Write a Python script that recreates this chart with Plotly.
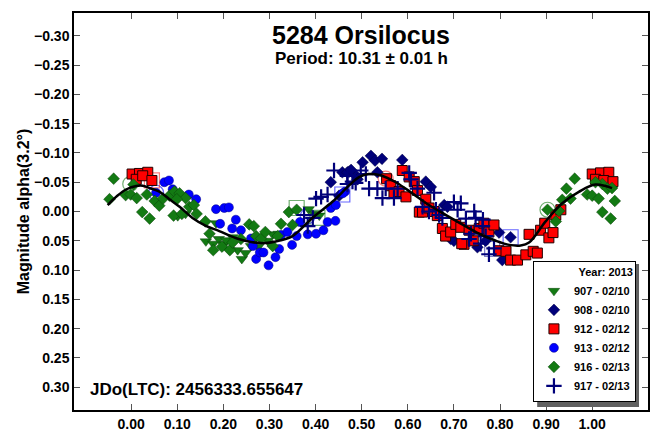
import plotly.graph_objects as go

# ---------------- data ----------------
fit_phase = [-0.051, -0.03, -0.01, 0.011, 0.025, 0.04, 0.061, 0.083, 0.105, 0.133, 0.161, 0.191,
             0.235, 0.26, 0.29, 0.32, 0.35, 0.393, 0.437, 0.473, 0.495, 0.515, 0.54, 0.574,
             0.61, 0.646, 0.682, 0.718, 0.755, 0.791, 0.82, 0.845, 0.863, 0.899, 0.935, 0.971,
             1.007, 1.043]
fit_mag = [-0.011, -0.027, -0.038, -0.0435, -0.044, -0.040, -0.034, -0.021, -0.008, 0.011, 0.024, 0.0335,
           0.0475, 0.052, 0.054, 0.050, 0.042, 0.011, -0.017, -0.0446, -0.059, -0.064, -0.062, -0.050,
           -0.031, -0.011, 0.0057, 0.022, 0.038, 0.050, 0.057, 0.058, 0.053, 0.0168, -0.014, -0.0335,
           -0.046, -0.040]

s907_phase = [0.162, 0.178, 0.190, 0.202, 0.206, 0.213, 0.231, 0.240, 0.248, 0.260, 0.276, 0.296,
              0.307, 0.320, 0.385, 0.397, 0.408, 0.101, 0.118, 0.184, 0.220]
s907_mag = [0.051, 0.055, 0.047, 0.056, 0.049, 0.066, 0.066, 0.081, 0.071, 0.059, 0.060, 0.050,
            0.039, 0.038, -0.004, 0.004, 0.007, 0.008, 0.004, 0.020, 0.044]

s908_phase = [0.433, 0.458, 0.473, 0.484, 0.491, 0.451, 0.469, 0.477, 0.502, 0.520, 0.529, 0.544,
              0.588, 0.534, 0.639, 0.650, 0.679, 0.686, 0.798, 0.823, 0.805, 0.751, 0.700, 0.693, 0.769]
s908_mag = [-0.050, -0.067, -0.068, -0.064, -0.055, -0.027, -0.067, -0.071, -0.084, -0.095, -0.087, -0.090,
            -0.088, -0.067, -0.051, -0.042, -0.011, -0.008, 0.036, 0.044, 0.083, 0.061, 0.050, 0.047, 0.050]

s912_phase = [0.002, 0.018, 0.036, 0.011, 0.025, 0.045, 0.554, 0.563, 0.570, 0.581, 0.588, 0.603,
              0.614, 0.596, 0.621, 0.639, 0.625, 0.632, 0.646, 0.657, 0.664, 0.675, 0.682, 0.693,
              0.704, 0.715, 0.722, 0.717, 0.733, 0.742, 0.755, 0.765, 0.776, 0.787, 0.798, 0.813,
              0.823, 0.838, 0.856, 0.872, 0.881, 0.863, 0.888, 0.897, 0.906, 0.915, 0.921, 0.932,
              1.000, 1.018, 1.036, 1.007, 1.025, 1.045]
s912_mag = [-0.064, -0.065, -0.067, -0.055, -0.061, -0.053, -0.056, -0.044, -0.031, -0.034, -0.070, -0.059,
            -0.051, -0.025, -0.036, -0.021, 0.001, 0.001, -0.006, 0.000, 0.007, 0.029, 0.042, 0.035,
            0.022, 0.027, 0.056, 0.055, 0.032, 0.050, 0.029, 0.020, 0.035, 0.023, 0.067, 0.068,
            0.083, 0.083, 0.074, 0.068, 0.071, 0.039, 0.032, 0.020, 0.045, 0.036, 0.006, -0.003,
            -0.064, -0.066, -0.067, -0.055, -0.053, -0.051]

s913_phase = [0.072, 0.082, 0.090, 0.125, 0.141, 0.184, 0.202, 0.212, 0.227, 0.193, 0.219, 0.238,
              0.260, 0.264, 0.271, 0.279, 0.287, 0.298, 0.313, 0.321, 0.325, 0.339, 0.349, 0.359,
              0.366, 0.383, 0.401, 0.417, 0.426, 0.443, 0.433, 0.444, 0.464, 0.459, 0.054]
s913_mag = [-0.050, -0.053, -0.038, -0.029, -0.021, -0.004, -0.006, -0.007, 0.014, 0.021, 0.029, 0.032,
            0.046, 0.059, 0.081, 0.070, 0.070, 0.092, 0.078, 0.064, 0.040, 0.035, 0.057, 0.042,
            0.018, 0.039, 0.038, 0.032, 0.018, 0.016, -0.006, -0.011, -0.034, -0.031, -0.032]

s916_phase = [-0.038, -0.047, -0.012, -0.001, 0.012, 0.005, 0.024, 0.040, 0.034, 0.051, 0.061, 0.069,
              0.083, 0.094, 0.105, 0.118, 0.099, 0.092, 0.110, 0.126, 0.136, 0.142, 0.161, 0.170,
              0.178, 0.197, 0.214, 0.220, 0.238, 0.256, 0.266, 0.271, 0.282, 0.291, 0.307, 0.318,
              0.325, 0.342, 0.359, 0.350, 0.962, 0.944, 0.935, 0.953, 0.928, 0.921, 0.903, 0.989,
              1.000, 1.014, 1.022, 1.033, 1.043, 1.049, 1.022, 1.040, 1.007]
s916_mag = [-0.056, -0.021, -0.028, -0.029, -0.023, -0.046, 0.001, 0.012, -0.029, -0.018, -0.010, -0.022,
            -0.027, -0.034, -0.031, -0.023, -0.021, 0.007, 0.004, -0.008, -0.011, 0.004, 0.017, 0.038,
            0.066, 0.060, 0.066, 0.053, 0.047, 0.022, 0.025, 0.042, 0.046, 0.035, 0.059, 0.042,
            0.021, 0.001, -0.003, 0.023, -0.056, -0.039, -0.020, -0.022, -0.001, 0.017, -0.003, -0.029,
            -0.027, -0.022, -0.047, -0.039, -0.040, -0.018, 0.001, 0.012, -0.050]

s917_phase = [0.440, 0.401, 0.412, 0.426, 0.383, 0.394, 0.375, 0.480, 0.469, 0.469, 0.487, 0.498,
              0.509, 0.516, 0.534, 0.545, 0.552, 0.570, 0.578, 0.603, 0.607, 0.621, 0.632, 0.646,
              0.657, 0.661, 0.668, 0.675, 0.700, 0.715, 0.708, 0.726, 0.744, 0.747, 0.762, 0.763,
              0.769, 0.737, 0.733, 0.776, 0.787, 0.758]
s917_mag = [-0.070, -0.022, -0.025, -0.029, 0.025, 0.011, 0.006, -0.051, -0.047, -0.061, -0.049, -0.070,
            -0.064, -0.039, -0.039, -0.023, -0.039, -0.023, -0.039, -0.066, -0.055, -0.039, -0.008, 0.000,
            -0.032, -0.003, 0.006, 0.011, -0.016, -0.014, -0.003, 0.012, 0.000, 0.011, 0.025, 0.014,
            0.042, 0.038, 0.047, 0.073, 0.063, 0.055]

open_circle_phase = [-0.002, 0.054, 0.383, 0.552, 0.903]
open_circle_mag = [-0.047, -0.032, 0.008, -0.056, -0.003]
open_circle_series = ["916", "913", "913", "912", "916"]
open_square_phase = [0.045, 0.359, 0.404, 0.458, 0.823, 0.783]
open_square_mag = [-0.053, -0.006, 0.011, -0.029, 0.044, 0.064]
open_square_series = ["912", "916", "916", "913", "913", "917"]

series_names = ["907 - 02/10", "908 - 02/10", "912 - 02/12", "913 - 02/12", "916 - 02/13", "917 - 02/13"]
x_ticks = [0.0, 0.1, 0.2, 0.3, 0.4, 0.5, 0.6, 0.7, 0.8, 0.9, 1.0]
y_ticks = [-0.30, -0.25, -0.20, -0.15, -0.10, -0.05, 0.00, 0.05, 0.10, 0.15, 0.20, 0.25, 0.30]

# ---------------- styles ----------------
GREEN = "#137a13"
NAVY = "#00007a"
RED = "#ff0000"
BLUE = "#0000ff"
open_colors = {"916": "rgba(19,122,19,0.6)", "913": "rgba(0,0,255,0.6)",
               "912": "rgba(255,0,0,0.5)", "917": "rgba(40,40,160,0.6)"}
FONT = "Liberation Sans, Arial, sans-serif"

fig = go.Figure()

# open reference markers
fig.add_trace(go.Scatter(x=open_circle_phase, y=open_circle_mag, mode="markers", showlegend=False,
                         hoverinfo="skip",
                         marker=dict(symbol="circle-open", size=15,
                                     color=[open_colors[s] for s in open_circle_series],
                                     line=dict(width=1.2))))
fig.add_trace(go.Scatter(x=open_square_phase, y=open_square_mag, mode="markers", showlegend=False,
                         hoverinfo="skip",
                         marker=dict(symbol="square-open", size=15,
                                     color=[open_colors[s] for s in open_square_series],
                                     line=dict(width=1.2))))

specs = [
    (s907_phase, s907_mag, dict(symbol="triangle-down", size=10, color=GREEN, line=dict(width=0.5, color="#0a400a"))),
    (s908_phase, s908_mag, dict(symbol="diamond", size=9, color=NAVY, line=dict(width=0.5, color="#000040"))),
    (s912_phase, s912_mag, dict(symbol="square", size=10, color=RED, line=dict(width=1, color="#200000"))),
    (s913_phase, s913_mag, dict(symbol="circle", size=9, color=BLUE, line=dict(width=0.5, color="#000080"))),
    (s916_phase, s916_mag, dict(symbol="diamond", size=9, color=GREEN, line=dict(width=0.5, color="#0a400a"))),
    (s917_phase, s917_mag, dict(symbol="cross-thin", size=11, color=NAVY, line=dict(width=2.2, color=NAVY))),
]
for (px, py, mk), name in zip(specs, series_names):
    fig.add_trace(go.Scatter(x=px, y=py, mode="markers", name=name, marker=mk))

# fit curve
fig.add_trace(go.Scatter(x=fit_phase, y=fit_mag, mode="lines", showlegend=False,
                         line=dict(color="black", width=2.5, shape="spline", smoothing=1.0)))

axis_common = dict(showline=True, linecolor="black", linewidth=1.5, mirror="ticks",
                   ticks="inside", tickcolor="#555555", ticklen=6, tickwidth=1,
                   showgrid=False, zeroline=False,
                   tickfont=dict(family=FONT, size=14, color="black", weight="bold"))

# legend shadow (pixel box converted to paper coords)
W_PLOT, H_PLOT, L, B = 575.0, 405.0, 74.0, 27.0
def px_x(p):
    return (p - L) / W_PLOT
def px_y(p):
    return (443 - B - p) / H_PLOT

fig.update_layout(
    width=661, height=443,
    margin=dict(l=74, r=12, t=11, b=27),
    paper_bgcolor="white", plot_bgcolor="white",
    font=dict(family=FONT, color="black"),
    xaxis=dict(range=[-0.124, 1.121], tickvals=x_ticks, tickformat=".2f", **axis_common),
    yaxis=dict(range=[0.339, -0.339], tickvals=y_ticks, tickformat=".2f",
               title=dict(text="Magnitude alpha(3.2°)", standoff=0,
                          font=dict(family=FONT, size=16, color="black", weight="bold")),
               **axis_common),
    legend=dict(x=0.979, y=0.02, xanchor="right", yanchor="bottom",
                bgcolor="white", bordercolor="black", borderwidth=1,
                font=dict(family=FONT, size=11, color="black", weight="bold"),
                title=dict(text="Year: 2013", side="top right",
                           font=dict(family=FONT, size=11, color="black", weight="bold")),
                itemwidth=30, tracegroupgap=0),
    showlegend=True,
    shapes=[dict(type="rect", xref="paper", yref="paper", layer="above",
                 x0=px_x(538), x1=px_x(640), y0=px_y(413), y1=px_y(267),
                 fillcolor="#606060", line=dict(width=0))],
    annotations=[
        dict(text="5284 Orsilocus", xref="paper", yref="paper", x=0.5, y=1 - 22 / 405,
             xanchor="center", yanchor="middle", showarrow=False,
             font=dict(family=FONT, size=25, color="black", weight="bold")),
        dict(text="Period: 10.31 ± 0.01 h", xref="paper", yref="paper", x=0.5, y=1 - 46 / 405,
             xanchor="center", yanchor="middle", showarrow=False,
             font=dict(family=FONT, size=17, color="black", weight="bold")),
        dict(text="JDo(LTC): 2456333.655647", xref="paper", yref="paper", x=14 / 575, y=21 / 405,
             xanchor="left", yanchor="middle", showarrow=False,
             font=dict(family=FONT, size=17, color="black", weight="bold")),
    ],
)

fig.write_html("out.html")
